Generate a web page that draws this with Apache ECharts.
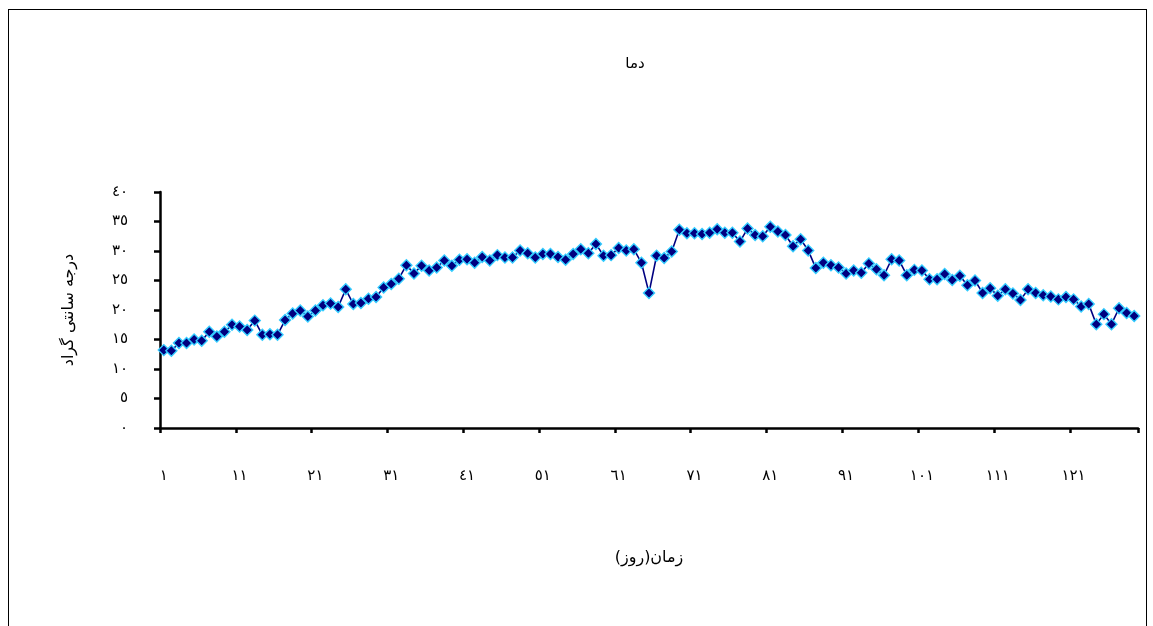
<!DOCTYPE html>
<html>
<head>
<meta charset="utf-8">
<script src="https://cdn.jsdelivr.net/npm/echarts@6/dist/echarts.min.js"></script>
<style>
html,body{margin:0;padding:0;background:#fff;overflow:hidden;}
#c{width:1153px;height:626px;position:absolute;left:0;top:0;}
#frame{position:absolute;left:8px;top:9px;width:1137px;height:700px;border:1px solid #000;pointer-events:none;}
</style>
</head>
<body>
<div id="c"></div>
<div id="frame"></div>
<script>
const chartTitle = 'دما';
const yAxisName = 'درجه سانتی گراد';
const xAxisName = 'زمان(روز)';

// daily temperature values (°C), days 1..129
const temps = [
  13.2, 13.1, 14.4, 14.4, 15.0, 14.8, 16.3, 15.5, 16.3, 17.5,
  17.2, 16.6, 18.2, 15.8, 15.9, 15.8, 18.3, 19.4, 19.9, 18.9,
  19.9, 20.8, 21.1, 20.5, 23.5, 21.0, 21.2, 21.9, 22.2, 23.8,
  24.4, 25.3, 27.6, 26.2, 27.5, 26.7, 27.2, 28.4, 27.5, 28.5,
  28.6, 28.0, 29.0, 28.4, 29.3, 28.9, 28.9, 30.1, 29.6, 28.9,
  29.5, 29.5, 29.0, 28.5, 29.5, 30.3, 29.6, 31.2, 29.2, 29.3,
  30.5, 30.1, 30.3, 28.0, 22.9, 29.2, 28.8, 29.9, 33.6, 33.0,
  33.0, 32.9, 33.1, 33.7, 33.1, 33.1, 31.6, 33.8, 32.7, 32.5,
  34.1, 33.3, 32.7, 30.8, 32.0, 30.1, 27.1, 28.0, 27.6, 27.2,
  26.2, 26.7, 26.3, 27.9, 26.9, 25.9, 28.6, 28.4, 25.9, 26.8,
  26.7, 25.2, 25.2, 26.1, 25.1, 25.8, 24.2, 25.0, 22.9, 23.7,
  22.4, 23.5, 22.8, 21.7, 23.5, 22.9, 22.5, 22.3, 21.8, 22.2,
  21.8, 20.6, 21.0, 17.6, 19.3, 17.6, 20.3, 19.5, 19.0
];

const days = [];
for (let i = 1; i <= temps.length; i++) days.push(String(i));

const yMin = 0, yMax = 40, yStep = 5;

const arabicDigits = '٠١٢٣٤٥٦٧٨٩';
function toArabicDigits(s) {
  return String(s).replace(/[0-9]/g, d => arabicDigits[+d]);
}

const font = 'DejaVu Sans';
const chart = echarts.init(document.getElementById('c'), null, {renderer: 'canvas'});
chart.setOption({
  animation: false,
  backgroundColor: 'transparent',
  title: {
    text: chartTitle,
    left: 630,
    top: 52,
    textAlign: 'center',
    textStyle: {fontFamily: font, fontSize: 15, fontWeight: 'normal', color: '#000'}
  },
  grid: {left: 160, right: 15, top: 192, bottom: 198, containLabel: false},
  xAxis: {
    type: 'category',
    data: days,
    boundaryGap: true,
    name: xAxisName,
    nameLocation: 'middle',
    nameGap: 122,
    nameTextStyle: {fontFamily: font, fontSize: 16, color: '#000'},
    axisLine: {show: true, lineStyle: {color: '#000', width: 2.5}},
    axisTick: {show: true, interval: 9, length: 5, inside: false, lineStyle: {color: '#000', width: 2.5}},
    axisLabel: {interval: 9, margin: 41, fontFamily: font, fontSize: 15, color: '#000', formatter: v => toArabicDigits(v)},
    splitLine: {show: false}
  },
  yAxis: {
    type: 'value',
    min: yMin,
    max: yMax,
    interval: yStep,
    name: yAxisName,
    nameLocation: 'middle',
    nameRotate: 90,
    nameGap: 83,
    nameTextStyle: {fontFamily: font, fontSize: 16, color: '#000'},
    axisLine: {show: true, lineStyle: {color: '#000', width: 2.5}},
    axisTick: {show: true, length: 6, inside: false, lineStyle: {color: '#000', width: 2.5}},
    axisLabel: {margin: 32, fontFamily: font, fontSize: 15, color: '#000', formatter: v => toArabicDigits(v)},
    splitLine: {show: false}
  },
  series: [{
    type: 'line',
    data: temps,
    symbol: 'diamond',
    symbolSize: 11,
    showAllSymbol: true,
    itemStyle: {color: '#000080', borderColor: '#33ccff', borderWidth: 1.4},
    lineStyle: {color: '#000080', width: 1.6}
  }]
});
</script>
</body>
</html>
